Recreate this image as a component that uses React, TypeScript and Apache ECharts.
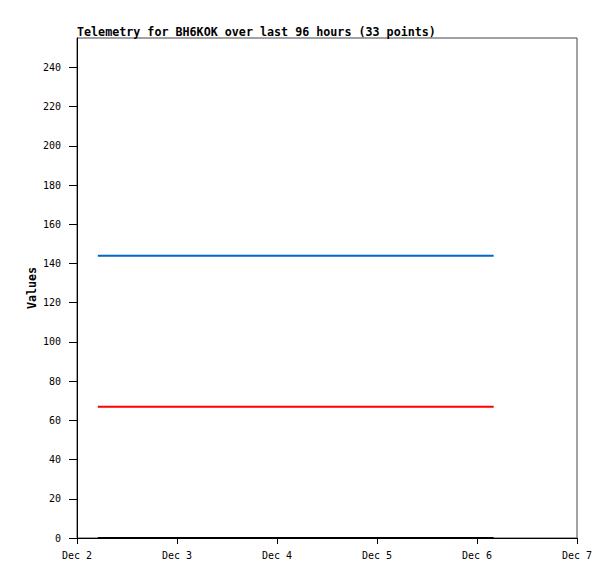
import React, { useEffect, useRef } from "react";
import * as echarts from "echarts";

const titleText = "Telemetry for BH6KOK over last 96 hours (33 points)";
const yAxisName = "Values";

// timestamps (2023, local time): [month index, day, hour, minute]
const times: [number, number, number, number][] = [
  [11, 2, 5, 0], [11, 2, 8, 0], [11, 2, 11, 0], [11, 2, 14, 0], [11, 2, 17, 0],
  [11, 2, 20, 0], [11, 2, 23, 0], [11, 3, 2, 0], [11, 3, 5, 0], [11, 3, 8, 0],
  [11, 3, 11, 0], [11, 3, 14, 0], [11, 3, 17, 0], [11, 3, 20, 0], [11, 3, 23, 0],
  [11, 4, 2, 0], [11, 4, 5, 0], [11, 4, 8, 0], [11, 4, 11, 0], [11, 4, 14, 0],
  [11, 4, 17, 0], [11, 4, 20, 0], [11, 4, 23, 0], [11, 5, 2, 0], [11, 5, 5, 0],
  [11, 5, 8, 0], [11, 5, 11, 0], [11, 5, 14, 0], [11, 5, 17, 0], [11, 5, 20, 0],
  [11, 5, 22, 0], [11, 6, 1, 0], [11, 6, 4, 0],
];

const blueValues = [
  144, 144, 144, 144, 144, 144, 144, 144, 144, 144, 144, 144, 144, 144, 144, 144, 144,
  144, 144, 144, 144, 144, 144, 144, 144, 144, 144, 144, 144, 144, 144, 144, 144,
];
const redValues = [
  67, 67, 67, 67, 67, 67, 67, 67, 67, 67, 67, 67, 67, 67, 67, 67, 67,
  67, 67, 67, 67, 67, 67, 67, 67, 67, 67, 67, 67, 67, 67, 67, 67,
];
const blackValues = [
  0, 0, 0, 0, 0, 0, 0, 0, 0, 0, 0, 0, 0, 0, 0, 0, 0,
  0, 0, 0, 0, 0, 0, 0, 0, 0, 0, 0, 0, 0, 0, 0, 0,
];

const yTicks = [0, 20, 40, 60, 80, 100, 120, 140, 160, 180, 200, 220, 240];
const yMax = 255;
const xDays = [2, 3, 4, 5, 6, 7];
const monthLabel = "Dec";

const FONT = "'DejaVu Sans Mono', 'Liberation Mono', monospace";

export default function App() {
  const ref = useRef<HTMLDivElement>(null);
  useEffect(() => {
    if (!ref.current) return;
    const chart = echarts.init(ref.current, null, { renderer: "svg" });
    const ts = times.map(([m, d, h, mi]) => new Date(2023, m, d, h, mi).getTime());
    const dayTicks = xDays.map((d) => new Date(2023, 11, d).getTime());
    const mk = (vals: number[]) => ts.map((t, i) => [t, vals[i]]);
    const lineSeries = (vals: number[], color: string) => ({
      type: "line",
      data: mk(vals),
      showSymbol: false,
      symbol: "none",
      lineStyle: { color, width: 2 },
      z: 3,
    });
    chart.setOption({
      animation: false,
      backgroundColor: "#fff",
      title: {
        text: titleText,
        left: 72,
        top: 21,
        textStyle: { fontFamily: FONT, fontSize: 11.7, fontWeight: "bold", color: "#000" },
      },
      graphic: [
        {
          type: "text",
          x: 32,
          y: 288,
          rotation: Math.PI / 2,
          style: {
            text: yAxisName,
            font: "bold 11.7px " + FONT,
            fill: "#000",
            align: "center",
            verticalAlign: "middle",
          },
        },
      ],
      grid: {
        left: 77,
        top: 38,
        width: 500,
        height: 500,
        show: true,
        borderColor: "#444",
        borderWidth: 1,
        backgroundColor: "transparent",
      },
      xAxis: {
        type: "value",
        min: dayTicks[0],
        max: dayTicks[dayTicks.length - 1],
        splitLine: { show: false },
        axisLine: { lineStyle: { color: "#000", width: 1 } },
        axisTick: { length: 6, lineStyle: { color: "#000" }, customValues: dayTicks },
        axisLabel: {
          customValues: dayTicks,
          formatter: (v: number) => monthLabel + " " + new Date(v).getDate(),
          fontFamily: FONT,
          fontSize: 10,
          color: "#000",
          margin: 12,
        },
      },
      yAxis: {
        type: "value",
        min: 0,
        max: yMax,
        splitLine: { show: false },
        axisLine: { lineStyle: { color: "#000", width: 1 } },
        axisTick: { length: 8, lineStyle: { color: "#000" }, customValues: yTicks },
        axisLabel: {
          customValues: yTicks,
          fontFamily: FONT,
          fontSize: 10,
          color: "#000",
          margin: 16,
        },
      },
      series: [
        lineSeries(blueValues, "#0066cc"),
        lineSeries(redValues, "#ff0000"),
        lineSeries(blackValues, "#000000"),
      ],
    });
    return () => chart.dispose();
  }, []);
  return <div ref={ref} style={{ width: 615, height: 579, margin: -8 }} />;
}
